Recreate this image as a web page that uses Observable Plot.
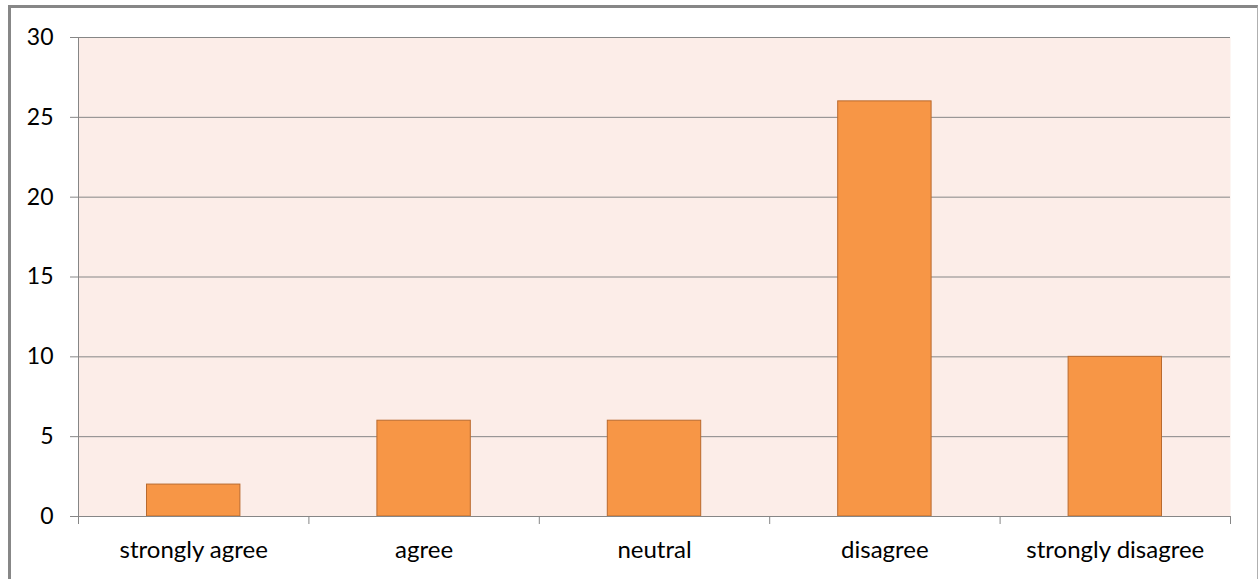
<!DOCTYPE html>
<html>
<head>
<meta charset="utf-8">
<script src="https://cdn.jsdelivr.net/npm/d3@7"></script>
<script src="https://cdn.jsdelivr.net/npm/@observablehq/plot@0.6"></script>
<style>
  html, body { margin: 0; padding: 0; background: #fff; }
  #wrap { position: relative; width: 1258px; height: 579px; overflow: hidden; }
  #border { position: absolute; left: 8px; top: 5px; width: 1246px; height: 600px;
            border-left: 3px solid #878787; border-top: 3px solid #878787; border-right: 1px solid #b0b0b0; }
  #chart { position: absolute; left: 0; top: 0; }
</style>
</head>
<body>
<div id="wrap"><div id="border"></div><div id="chart"></div></div>
<script>
const categories = ["strongly agree", "agree", "neutral", "disagree", "strongly disagree"];
const counts = [2, 6, 6, 26, 10];
const yTicks = [0, 5, 10, 15, 20, 25, 30];

const data = categories.map((c, i) => ({category: c, index: i, count: counts[i]}));
const boundaries = d3.range(categories.length + 1);
const centers = categories.map((c, i) => i + 0.5);

const font = "Lato, 'Open Sans', sans-serif";

const chart = Plot.plot({
  width: 1258,
  height: 579,
  marginLeft: 78,
  marginRight: 28,
  marginTop: 37,
  marginBottom: 63,
  style: {fontFamily: font, fontSize: "23px", color: "#000", background: "transparent", overflow: "visible"},
  x: {type: "linear", domain: [0, categories.length]},
  y: {domain: [0, 30]},
  marks: [
    Plot.frame({fill: "#fcede8", stroke: null}),
    Plot.gridY(yTicks.filter(d => d > 0), {stroke: "#868686", strokeOpacity: 1, strokeWidth: 1}),
    Plot.rectY(data, {
      x1: "index",
      x2: d => d.index + 1,
      y: "count",
      insetLeft: 68.5,
      insetRight: 68.5,
      fill: "#f79646",
      stroke: "#b96a2e",
      strokeWidth: 1
    }),
    Plot.axisY({ticks: yTicks, tickSize: 8, tickPadding: 17, stroke: "#868686", label: null, fontSize: 23, fill: "#000"}),
    Plot.ruleX([0], {stroke: "#868686"}),
    Plot.ruleY([0], {stroke: "#868686"}),
    Plot.axisX({ticks: boundaries, tickSize: 8, tickFormat: () => "", stroke: "#868686", label: null}),
    Plot.axisX({ticks: centers, tickSize: 0, tickPadding: 24, tickFormat: d => categories[Math.floor(d)], label: null, fontSize: 24, fill: "#000"})
  ]
});
document.getElementById("chart").appendChild(chart);
</script>
</body>
</html>
